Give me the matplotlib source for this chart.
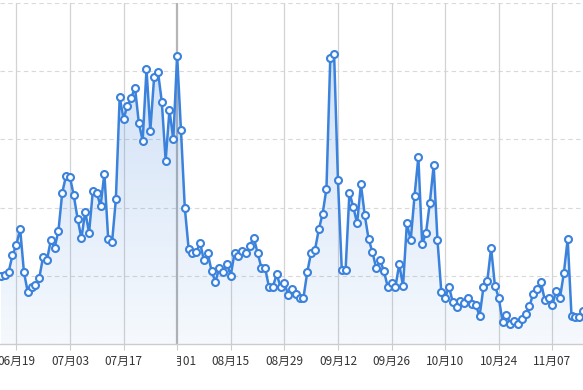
import numpy as np
import matplotlib.pyplot as plt
from matplotlib.patches import Polygon
from matplotlib.transforms import Bbox, blended_transform_factory

plt.rcParams['font.family'] = ['Noto Sans CJK SC', 'DejaVu Sans']

# daily values, series starts 4 days before the first labelled date
values = [100, 101, 106, 130, 145, 169, 105, 76, 83, 87, 97, 128, 123, 152, 141, 166,
          222, 247, 245, 218, 184, 155, 194, 163, 225, 222, 202, 250, 154, 149, 212,
          362, 330, 349, 361, 376, 324, 298, 403, 313, 392, 399, 355, 269, 343, 300, 423,
          314, 200, 140, 134, 135, 148, 123, 133, 107, 91, 112, 106, 118, 100,
          134, 129, 137, 133, 144, 156, 134, 112, 111, 83, 84, 102, 84, 90,
          72, 80, 74, 67, 68, 106, 134, 138, 168, 191, 228, 420, 425, 240,
          109, 109, 222, 201, 177, 234, 189, 154, 135, 111, 123, 107, 84,
          89, 83, 117, 85, 177, 152, 217, 274, 146, 163, 207, 262, 152, 76,
          68, 84, 61, 54, 63, 60, 68, 58, 57, 41, 83, 92, 141, 85,
          68, 32, 43, 30, 33, 29, 36, 44, 55, 74, 80, 91, 65, 68,
          57, 78, 68, 104, 154, 41, 40, 40, 49]
first_idx = -4
tick_labels = ['06月19', '07月03', '07月17', '08月01', '08月15', '08月29',
               '09月12', '09月26', '10月10', '10月24', '11月07']
tick_step = 14
pointer_pos = 3  # the label with the hover line

line_c = '#3b82dc'

x = np.arange(len(values)) + first_idx
y = np.array(values, dtype=float)
ticks = np.arange(len(tick_labels)) * tick_step

fig = plt.figure(figsize=(5.83, 3.90), dpi=100)
ax = fig.add_axes([0, 46 / 390, 1, 341 / 390])
ax.set_xlim(-4.26, 148.0)
ax.set_ylim(0, 500)

# gradient area under the line
rgb = np.array([59, 130, 220]) / 255
grad = np.zeros((256, 1, 4))
grad[:, 0, :3] = rgb
grad[:, 0, 3] = np.linspace(0.05, 0.24, 256)
img = ax.imshow(grad, aspect='auto', origin='lower',
                extent=[x[0], x[-1], 0, y.max()], zorder=1)
verts = np.column_stack([np.r_[x, x[-1], x[0]], np.r_[y, 0, 0]])
poly = Polygon(verts, closed=True, facecolor='none', edgecolor='none')
ax.add_patch(poly)
img.set_clip_path(poly)
ax.set_xlim(-4.26, 148.0)
ax.set_ylim(0, 500)

# grid
for v in range(100, 501, 100):
    ax.axhline(v, color='#d9d9d9', lw=0.8, ls=(0, (4, 3)), zorder=0)
for i, t in enumerate(ticks):
    if i == pointer_pos:
        ax.axvline(t, color='#b5b5b5', lw=1.6, zorder=0.5)
    else:
        ax.axvline(t, color='#d3d3d3', lw=0.9, zorder=0.5)

ax.plot(x, y, color=line_c, lw=1.8, marker='o', ms=5, mfc='white',
        mec=line_c, mew=1.5, zorder=3)

for s in ax.spines.values():
    s.set_visible(False)
ax.axhline(0, color='#cccccc', lw=1, zorder=2, clip_on=False)
ax.set_yticks([])
ax.set_xticks(ticks)
labels = list(tick_labels)
labels[pointer_pos] = ''
ax.set_xticklabels(labels)
ax.tick_params(axis='x', length=4, color='#cccccc', labelcolor='#333333',
               labelsize=8.5, pad=4)

# hover label, left half hidden behind the pointer line
fig.canvas.draw()
px = ax.transData.transform((ticks[pointer_pos], 0))[0]
trans = blended_transform_factory(ax.transData, ax.transAxes)
lab = ax.get_xticklabels()[0]
ty = lab.get_position()[1]
txt = ax.text(ticks[pointer_pos], -0.052, tick_labels[pointer_pos], transform=trans,
              ha='center', va='center', fontsize=8.5, color='#333333', clip_on=True)
txt.set_clip_box(Bbox([[px, 0], [fig.bbox.width, fig.bbox.height]]))

fig.savefig('out.png', dpi=100)
